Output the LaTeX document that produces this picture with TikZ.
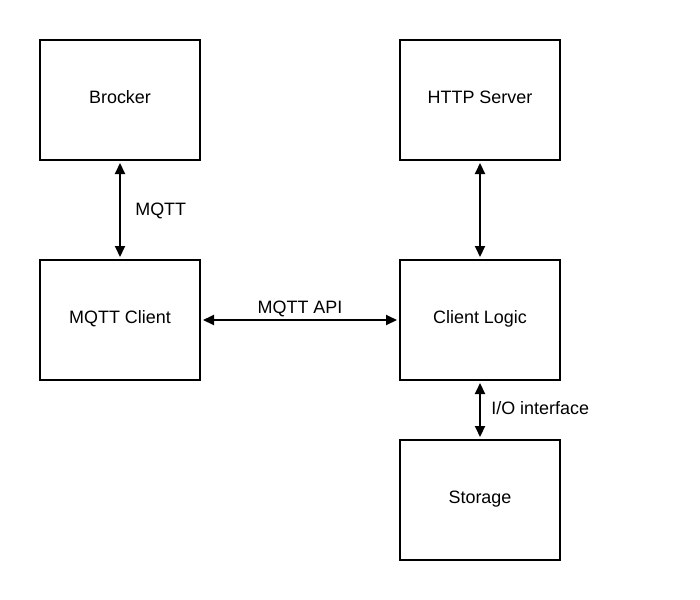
\documentclass[tikz,border=0pt]{standalone}
\usepackage{fontspec}
\setmainfont{Liberation Sans}
\usetikzlibrary{positioning,arrows.meta}

\begin{document}
\begin{tikzpicture}[x=1bp, y=1bp, node distance=100bp,
    every node/.style={font=\fontsize{18}{21}\selectfont},
    block/.style={draw, line width=2bp, rectangle, minimum width=160bp, minimum height=120bp, inner sep=0pt, outer sep=0pt, text height=13bp, text depth=6bp},
    link/.style={{Triangle[length=11bp,width=10bp]}-{Triangle[length=11bp,width=10bp]}, line width=2bp, shorten <=3bp, shorten >=3bp}]
    \useasboundingbox (0,0) rectangle (700,-600);

    % Left column
    \node[block] (brocker) at (120,-100) {Brocker};
    \node[block, below=of brocker] (mqttclient) {MQTT Client};

    % Right column
    \node[block, right=200bp of mqttclient] (clientlogic) {Client Logic};
    \node[block, above=of clientlogic] (httpserver) {HTTP Server};
    \node[block, below=60bp of clientlogic] (storage) {Storage};

    % Links
    \draw[link] (brocker) -- node[right, xshift=11bp, yshift=-1bp] {MQTT} (mqttclient);
    \draw[link] (mqttclient) -- node[above, yshift=-1bp] {MQTT API} (clientlogic);
    \draw[link] (httpserver) -- (clientlogic);
    \draw[link] (clientlogic) -- node[right, xshift=7bp, yshift=2bp] {I/O interface} (storage);
\end{tikzpicture}
\end{document}
